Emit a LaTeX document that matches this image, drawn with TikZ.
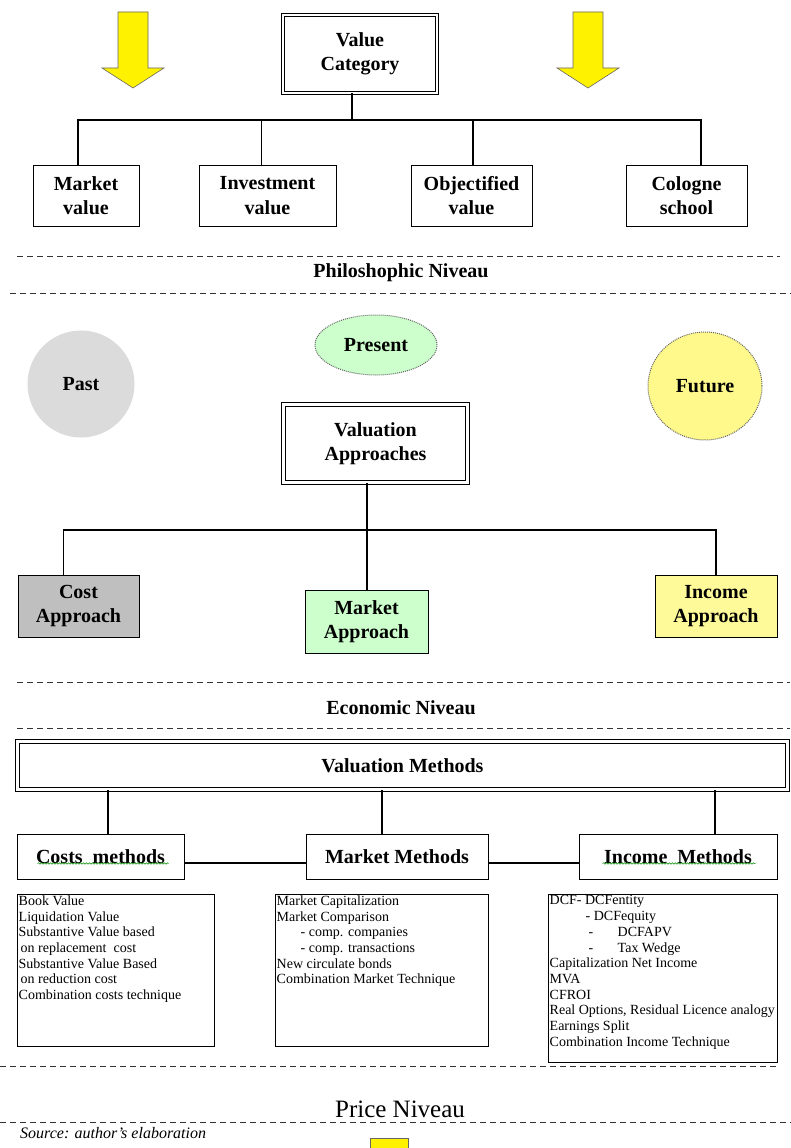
\documentclass[tikz,border=0pt]{standalone}
\usepackage{fontspec}
\setmainfont{Liberation Serif}
\usetikzlibrary{shapes.geometric,decorations.pathmorphing}

\begin{document}
\begin{tikzpicture}[x=1pt,y=-1pt,
    lbl/.style={font=\fontsize{20}{24.5}\selectfont\bfseries, align=center},
    box/.style={draw, lbl, line width=1pt, inner sep=0pt},
    dbox/.style={box, double, double distance=2.5pt, line width=0.9pt},
    tbox/.style={box, double, double distance=2.5pt, line width=1.4pt},
    link/.style={line width=1.2pt},
    niveau/.style={draw=black!80, line width=1pt, dash pattern=on 6pt off 4pt},
    listbox/.style={draw, line width=1pt, inner sep=0pt},
    listtext/.style={anchor=north west, align=left, inner sep=2pt, font=\fontsize{14}{15.7}\selectfont},
    yarrow/.style={fill=yellow, draw=black!60, line width=0.6pt},
    timeball/.style={ellipse, lbl, inner sep=0pt},
    spell/.style={draw=green!55!black, line width=0.5pt, decorate, decoration={snake, amplitude=0.8pt, segment length=3pt}}]
  \useasboundingbox (0,0) rectangle (791,1148);
  \fill[white] (0,0) rectangle (791,1148);
  % yellow arrows
  \foreach \ax in {133,588} {
    \draw[yarrow] (\ax-15,12) -- (\ax+15,12) -- (\ax+15,68) -- (\ax+31,68) -- (\ax,88) -- (\ax-31,68) -- (\ax-15,68) -- cycle;
  }
  % value category
  \node[dbox, minimum width=154pt, minimum height=78pt] (cat) at (360,54) {Value\\Category};
  \coordinate (catbus) at (352,120);
  \draw[link] (catbus |- cat.south) -- (catbus);
  \foreach \t/\x/\w/\dx/\nm in {Market\\value/86/106/-8/mv, Investment\\value/267.5/137/-6/iv, Objectified\\value/471.5/121/1.5/ov, Cologne\\school/686.5/121/14.5/cs} {
    \node[box, minimum width=\w pt, minimum height=61pt] (\nm) at (\x,195.5) {\t};
    \draw[link] (catbus) -| ([xshift=\dx pt]\nm.north);
  }
  % philosophic niveau
  \draw[niveau] (17,256) -- (780,256);
  \node[lbl, anchor=base] (phil) at (401,277) {Philoshophic Niveau};
  \draw[niveau] (10,293) -- (791,293);
  % past, present, future
  \node[timeball, fill=black!14, minimum width=107pt, minimum height=107pt] (past) at (81,384) {Past};
  \node[timeball, fill=green!20, draw=black!60, densely dotted, line width=1pt, minimum width=122pt, minimum height=60pt] (present) at (376,345) {Present};
  \node[timeball, fill=yellow!45, draw=black!60, densely dotted, line width=1pt, minimum width=114pt, minimum height=108pt] (future) at (705,386) {Future};
  % valuation approaches
  \node[tbox, minimum width=184pt, minimum height=78pt] (va) at (375.5,443.5) {Valuation\\Approaches};
  \coordinate (vabus) at (367,530);
  \draw[link] (vabus |- va.south) -- (vabus);
  \node[box, fill=black!25, minimum width=121pt, minimum height=62pt] (ca) at (78.5,606) {Cost\\Approach};
  \node[box, fill=green!20, minimum width=123pt, minimum height=63pt] (ma) at (366.5,621.5) {Market\\Approach};
  \node[box, fill=yellow!40, minimum width=122pt, minimum height=62pt] (ia) at (716,606) {Income\\Approach};
  \draw[link] (vabus) -| ([xshift=-15pt]ca.north);
  \draw[link] (vabus) -- (vabus |- ma.north);
  \draw[link] (vabus) -| (ia.north);
  % economic niveau
  \draw[niveau] (17,682) -- (790,682);
  \node[lbl, anchor=base] (econ) at (401,714) {Economic Niveau};
  \draw[niveau] (17,728) -- (790,728);
  \node[tbox, minimum width=770pt, minimum height=48pt] (vm) at (402.5,765.5) {Valuation Methods};
  \foreach \t/\x/\w/\dx/\nm in {Costs\hspace{0.5em}methods/100.5/167/7.5/cm, Market Methods/397/182/-15/mm, Income\hspace{0.5em}Methods/678/198/37/im} {
    \node[box, minimum width=\w pt, minimum height=45pt] (\nm) at (\x,856.5) {\t};
    \draw[link] ([xshift=\dx pt]\nm.north) -- ([xshift=\dx pt]\nm.north |- vm.south);
  }
  \draw[link] ([yshift=-6.5pt]cm.east) -- ([yshift=-6.5pt]mm.west);
  \draw[link] ([yshift=-6.5pt]mm.east) -- ([yshift=-6.5pt]im.west);
  \draw[spell] ([xshift=21pt,yshift=-7pt]cm.west) -- ([xshift=-16pt,yshift=-7pt]cm.east);
  \draw[spell] ([xshift=24pt,yshift=-7pt]im.west) -- ([xshift=-22pt,yshift=-7pt]im.east);
  % method lists
  \node[listbox, minimum width=197pt, minimum height=152pt] (cl) at (115.5,970) {};
  \node[listtext] (clt) at (cl.north west) {Book Value\\Liquidation Value\\Substantive Value based\\\hspace*{2pt}on replacement\ \ cost\\Substantive Value Based\\\hspace*{2pt}on reduction cost\\Combination costs technique};
  \node[listbox, minimum width=213pt, minimum height=152pt] (ml) at (381.5,970) {};
  \node[listtext] (mlt) at (ml.north west) {Market Capitalization\\Market Comparison\\\hspace*{24pt}- comp. companies\\\hspace*{24pt}- comp. transactions\\New circulate bonds\\Combination Market Technique};
  \node[listbox, minimum width=229pt, minimum height=168pt] (il) at (662.5,978) {};
  \node[listtext] (ilt) at (il.north west) {DCF- DCFentity\\\hspace*{36pt}- DCFequity\\\hspace*{39pt}\makebox[29pt][l]{-}DCFAPV\\\hspace*{39pt}\makebox[29pt][l]{-}Tax Wedge\\Capitalization Net Income\\MVA\\CFROI\\Real Options, Residual Licence analogy\\Earnings Split\\Combination Income Technique};
  % price niveau
  \draw[niveau] (0,1066) -- (777,1066);
  \node[font=\fontsize{25}{30}\selectfont, anchor=base] (price) at (400,1117) {Price Niveau};
  \draw[niveau] (0,1122) -- (791,1122);
  \node[font=\fontsize{16}{19}\selectfont\itshape, anchor=base west, inner sep=0pt] (src) at (20,1138) {Source: author's elaboration};
  \draw[yarrow] (370,1138) rectangle (408,1160);
\end{tikzpicture}
\end{document}
